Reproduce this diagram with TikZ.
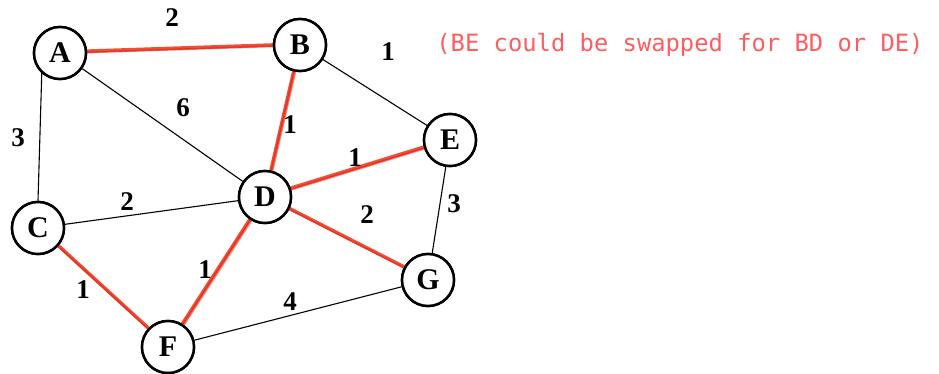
\documentclass[tikz,border=0pt]{standalone}
\usepackage{fontspec}
\setmainfont{Liberation Serif}
\newfontfamily\notefont{DejaVu Sans Mono}
\definecolor{mstred}{RGB}{240,58,36}
\definecolor{notered}{RGB}{255,92,96}
\begin{document}
\begin{tikzpicture}[x=1pt,y=-1pt,
  vertex/.style={circle,draw=black,line width=2.5pt,minimum size=52pt,inner sep=0pt,fill=white,font=\fontsize{30}{32}\selectfont\bfseries},
  plain/.style={draw=black,line width=1.1pt},
  mst/.style={draw=mstred,line width=3.4pt,opacity=0.9},
  mstb/.style={draw=mstred,line width=1.6pt,opacity=0.6},
  wlab/.style={font=\fontsize{27}{29}\selectfont\bfseries,inner sep=0pt}]
\useasboundingbox (0,0) rectangle (939,374);
\node[vertex] (A) at (60,53) {A};
\node[vertex] (B) at (300,45) {B};
\node[vertex] (E) at (450,140) {E};
\node[vertex] (D) at (265,197) {D};
\node[vertex] (C) at (38,228) {C};
\node[vertex] (G) at (428,280) {G};
\node[vertex] (F) at (168,347) {F};
% plain edges
\draw[plain] (A.228) -- (C.north);
\draw[plain] (A) -- (D);
\draw[plain] (C) -- (D);
\draw[plain] (B) -- (E);
\draw[plain] (E) -- (G);
\draw[plain] (F) -- (G);
% underlying thin lines of MST edges
\draw[plain] (A) -- (B);
\draw[plain] (B) -- (D);
\draw[plain] (D) -- (E);
\draw[plain] (D) -- (G);
\draw[plain] (D) -- (F);
\draw[plain] (C) -- (F);
% MST highlight
\foreach \u/\v in {A/B,B/D,D/E,D/G,D/F,C/F}{
  \draw[mst] ([yshift=1pt]\u.center) -- ([yshift=1pt]\v.center);
  \draw[mstb] ([xshift=1.5pt,yshift=-0.5pt]\u.center) -- ([xshift=1.5pt,yshift=-0.5pt]\v.center);
}
% redraw vertices on top
\foreach \n/\p in {A/{(60,53)},B/{(300,45)},E/{(450,140)},D/{(265,197)},C/{(38,228)},G/{(428,280)},F/{(168,347)}}{
  \node[vertex] at \p {\n};
}
% weights
\node[wlab] (wAB) at (172,18) {2};
\node[wlab] (wAD) at (183,108) {6};
\node[wlab] (wAC) at (18,138) {3};
\node[wlab] (wBE) at (388,52) {1};
\node[wlab] (wBD) at (290,125) {1};
\node[wlab] (wDE) at (355,158) {1};
\node[wlab] (wDG) at (367,215) {2};
\node[wlab] (wEG) at (454,204) {3};
\node[wlab] (wCD) at (127,202) {2};
\node[wlab] (wCF) at (83,290) {1};
\node[wlab] (wDF) at (205,270) {1};
\node[wlab] (wFG) at (290,302) {4};
\node[font=\notefont\fontsize{23.8}{26}\selectfont,text=notered,inner sep=0pt] (note) at (680,45) {(BE could be swapped for BD or DE)};
\end{tikzpicture}
\end{document}
